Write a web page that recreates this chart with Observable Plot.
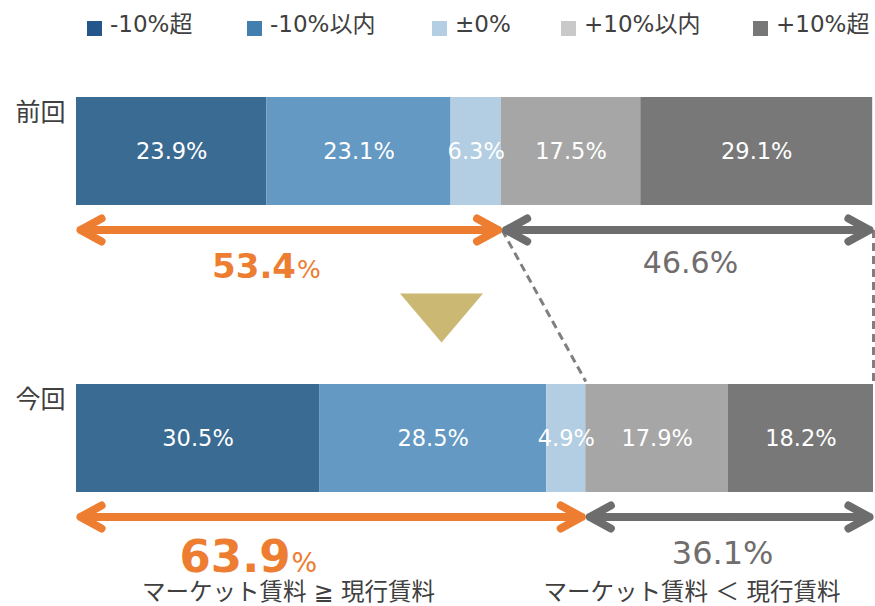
<!DOCTYPE html>
<html>
<head>
<meta charset="utf-8">
<script src="https://cdn.jsdelivr.net/npm/d3@7"></script>
<script src="https://cdn.jsdelivr.net/npm/@observablehq/plot@0.6"></script>
<style>
  body { margin: 0; background: #fff; }
  #chart { width: 875px; height: 606px; position: relative; overflow: hidden; background: #fff; }
  #legend { position: relative; height: 46px; font-family: 'DejaVu Sans', 'Noto Sans CJK JP', sans-serif; font-size: 23px; color: #404040; }
  .sw { position: absolute; top: 21px; width: 15px; height: 15px; }
  .lt { position: absolute; top: 13px; line-height: 23px; white-space: nowrap; }
  #plot svg { display: block; }
</style>
</head>
<body>
<div id="chart">
  <div id="legend"></div>
  <div id="plot"></div>
</div>
<script>
// ---- data ----
const categories = ["-10%超", "-10%以内", "±0%", "+10%以内", "+10%超"];
const periods = ["前回", "今回"];
const previousValues = [23.9, 23.1, 6.3, 17.5, 29.1];
const currentValues = [30.5, 28.5, 4.9, 17.9, 18.2];
const previousTotals = [53.4, 46.6];   // [マーケット賃料 ≧ 現行賃料, マーケット賃料 ＜ 現行賃料]
const currentTotals = [63.9, 36.1];
const groupLabels = ["マーケット賃料 ≧ 現行賃料", "マーケット賃料 ＜ 現行賃料"];

// ---- styles / layout ----
const FONT = "'DejaVu Sans', 'Noto Sans CJK JP', sans-serif";
const JP = "'Noto Sans CJK JP', sans-serif";
const barColors = ["#3a6b92", "#6399c3", "#b3cee3", "#a6a6a6", "#787878"];
const legendColors = ["#24558b", "#427eae", "#b4cfe3", "#c9c9c9", "#777777"];
const legendX = [87, 247, 432, 561, 753];
const ORANGE = "#ed7d31";
const GRAY_ARROW = "#6d6d6d";
const GRAY_TEXT = "#716d6d";
const ARROW_DY = 78.5;
const ARROW_GAP = 24.5;

// legend (HTML, above the SVG)
const legend = document.getElementById("legend");
categories.forEach((c, i) => {
  const s = document.createElement("div");
  s.className = "sw"; s.style.left = legendX[i] + "px"; s.style.background = legendColors[i];
  const t = document.createElement("div");
  t.className = "lt"; t.style.left = (legendX[i] + 23) + "px"; t.textContent = c;
  legend.appendChild(s); legend.appendChild(t);
});

// tidy rows for bars
const valuesByPeriod = {"前回": previousValues, "今回": currentValues};
const totalsByPeriod = {"前回": previousTotals, "今回": currentTotals};
const rows = periods.flatMap(p => categories.map((c, i) => ({period: p, category: c, value: valuesByPeriod[p][i]})));

// arrow segments from totals
const segs = periods.flatMap(p => {
  const t = totalsByPeriod[p];
  return [
    {period: p, side: "ge", from: 0, to: t[0], value: t[0]},
    {period: p, side: "lt", from: t[0], to: 100, value: t[1]}
  ];
});
segs.forEach(s => s.mid = (s.from + s.to) / 2);
const halves = segs.flatMap(s => [{...s, a: s.mid, b: s.from}, {...s, a: s.mid, b: s.to}]);

// connectors (dashed) between previous arrow level and current bar top
const connectors = [
  {from: previousTotals[0], to: currentTotals[0], row1: "前回", row2: "今回"},
  {from: 100, to: 100, row1: "前回", row2: "今回"}
];

const annotLayout = {
  "前回": {ge: {dx: 6.7, dy: 126, size: 34, pct: 25}, lt: {dx: 2.7, dy: 121, size: 30}},
  "今回": {ge: {dx: -40.6, dy: 133.5, size: 45, pct: 27}, lt: {dx: -7, dy: 125.5, size: 32}}
};
const subtitleDx = [-42.6, -37.6];
const TRIANGLE_X = 45.8;

const downTriangle = {
  draw(ctx) { ctx.moveTo(-41.5, -24.5); ctx.lineTo(41.5, -24.5); ctx.lineTo(0, 24.5); ctx.closePath(); }
};

const arrowOpts = (color) => ({
  x1: "a", x2: "b", y1: "period", y2: "period",
  stroke: color, strokeWidth: 8, headAngle: 57, headLength: 4.5, insetEnd: 4,
  strokeLinecap: "round", strokeLinejoin: "round", dy: ARROW_DY
});

const marks = [
  Plot.barX(rows, Plot.stackX({x: "value", y: "period", fill: "category"})),
  Plot.text(rows, Plot.stackX({x: "value", y: "period", text: d => d.value.toFixed(1) + "%", fill: "white", fontSize: 22.5, fontFamily: FONT})),
  Plot.text(periods, {y: d => d, frameAnchor: "left", textAnchor: "end", dx: -11, dy: -39, fontSize: 25, fontFamily: JP, fill: "#404040", text: d => d}),
  Plot.link(connectors, {
    x1: "from", x2: "to", y1: "row1", y2: "row2",
    stroke: "#7f7f7f", strokeWidth: 3, strokeDasharray: "8,5",
    render(index, scales, values, dimensions, context, next) {
      const bw = scales.y && scales.y.bandwidth ? scales.y.bandwidth() : 0;
      const y1 = Array.from(values.y1, v => v + bw / 2 + ARROW_GAP);
      const y2 = Array.from(values.y2, v => v - bw / 2 - 3);
      return next(index, scales, {...values, y1, y2}, dimensions, context);
    }
  }),
  Plot.arrow(halves.filter(d => d.side === "ge"), arrowOpts(ORANGE)),
  Plot.arrow(halves.filter(d => d.side === "lt"), arrowOpts(GRAY_ARROW)),
  Plot.dot([0], {x: () => TRIANGLE_X, y: () => "前回", dy: 166.5, symbol: downTriangle, fill: "#cbb873", r: 1})
];

periods.forEach(p => {
  const L = annotLayout[p];
  const ge = segs.filter(s => s.period === p && s.side === "ge");
  const lt = segs.filter(s => s.period === p && s.side === "lt");
  marks.push(
    Plot.text(ge, {x: "mid", y: "period", text: d => d.value.toFixed(1), textAnchor: "end", lineAnchor: "bottom",
      dx: L.ge.dx, dy: L.ge.dy, fontSize: L.ge.size, fontWeight: "bold", fontFamily: FONT, fill: ORANGE}),
    Plot.text(ge, {x: "mid", y: "period", text: () => "%", textAnchor: "start", lineAnchor: "bottom",
      dx: L.ge.dx + 1, dy: L.ge.dy, fontSize: L.ge.pct, fontFamily: FONT, fill: ORANGE}),
    Plot.text(lt, {x: "mid", y: "period", text: d => d.value.toFixed(1) + "%", textAnchor: "middle", lineAnchor: "bottom",
      dx: L.lt.dx, dy: L.lt.dy, fontSize: L.lt.size, fontFamily: FONT, fill: GRAY_TEXT})
  );
});

const currentSegs = segs.filter(s => s.period === "今回");
currentSegs.forEach((s, i) => {
  marks.push(Plot.text([s], {x: "mid", y: "period", text: () => groupLabels[i], textAnchor: "middle", lineAnchor: "bottom",
    dx: subtitleDx[i], dy: 161.5, fontSize: 23.5, fontFamily: FONT, fill: "#404040"}));
});

const chart = Plot.plot({
  width: 875, height: 560,
  marginLeft: 76, marginRight: 2, marginTop: 0, marginBottom: 0,
  style: {fontFamily: FONT, background: "#fff", overflow: "visible"},
  x: {domain: [0, 100], axis: null},
  y: {domain: periods, range: [51, 446], paddingInner: 0.6237, paddingOuter: 0, axis: null},
  color: {domain: categories, range: barColors},
  marks
});
document.getElementById("plot").appendChild(chart);
</script>
</body>
</html>
